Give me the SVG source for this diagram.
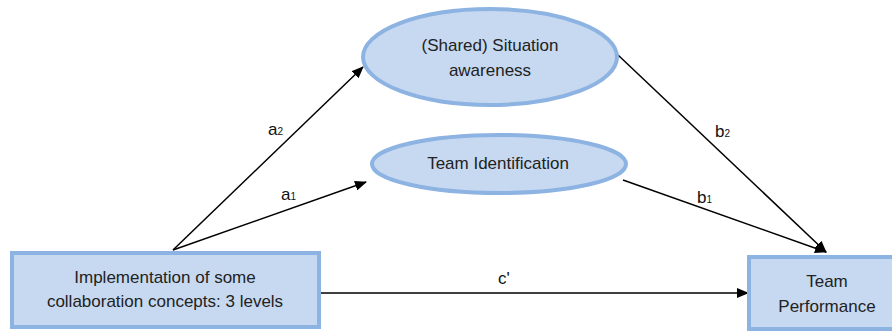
<svg xmlns="http://www.w3.org/2000/svg" width="892" height="332" viewBox="0 0 892 332">
<style>
.node{fill:#C6D9F1;stroke:#8DB3E2;stroke-width:4}
.t{font-family:"Liberation Sans",Arial,sans-serif;font-size:17px;fill:#222;text-anchor:middle}
.lbl{font-family:"Liberation Sans",Arial,sans-serif;font-size:17px;fill:#111}
.sub{font-size:10px}
.edge{stroke:#000;stroke-width:1.5;fill:none;marker-end:url(#ah)}
</style>
<defs>
<marker id="ah" viewBox="0 0 12 10" refX="11" refY="5" markerWidth="12" markerHeight="10" markerUnits="userSpaceOnUse" orient="auto">
<path d="M0,0 L12,5 L0,10 z" fill="#000"/>
</marker>
</defs>
<rect width="892" height="332" fill="#fff"/>
<g id="connectors">
<path class="edge" d="M173,250 L363,67"/>
<path class="edge" d="M173,250 L366,182"/>
<path class="edge" d="M618,55 L826,252"/>
<path class="edge" d="M623,180 L826,252"/>
<path class="edge" d="M321,293 L748,293"/>
<text class="lbl" x="268" y="135">a<tspan class="sub">2</tspan></text>
<text class="lbl" x="281" y="200">a<tspan class="sub">1</tspan></text>
<text class="lbl" x="715" y="137">b<tspan class="sub">2</tspan></text>
<text class="lbl" x="697" y="203">b<tspan class="sub">1</tspan></text>
<text class="lbl" x="498" y="284">c'</text>
</g>
<g id="node-implementation">
<rect class="node" x="12" y="253" width="307" height="74"/>
<text class="t" x="165" y="283">Implementation of some</text>
<text class="t" x="165" y="307">collaboration concepts: 3 levels</text>
</g>
<g id="node-situation">
<ellipse class="node" cx="490" cy="57" rx="127" ry="48"/>
<text class="t" x="490" y="51">(Shared) Situation</text>
<text class="t" x="490" y="76">awareness</text>
</g>
<g id="node-identification">
<ellipse class="node" cx="499" cy="164" rx="127" ry="29"/>
<text class="t" x="498" y="169">Team Identification</text>
</g>
<g id="node-performance">
<rect class="node" x="749" y="257" width="156" height="72"/>
<text class="t" x="827" y="287">Team</text>
<text class="t" x="827" y="312">Performance</text>
</g>
</svg>
